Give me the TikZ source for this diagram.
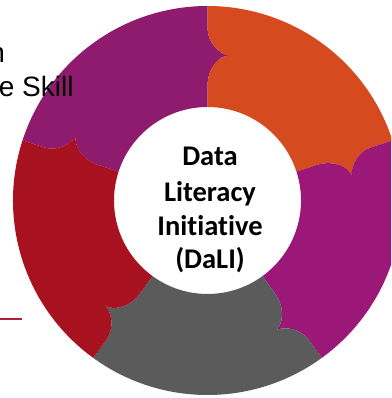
\documentclass[tikz,border=0pt]{standalone}
\usepackage{fontspec}
\setmainfont{Liberation Sans}
\newfontfamily\calib[Ligatures=NoCommon]{Carlito}
\definecolor{segpurple}{HTML}{8E1B6D}
\definecolor{segorange}{HTML}{D54A1F}
\definecolor{segmagenta}{HTML}{9C1878}
\definecolor{seggray}{HTML}{5B5B5B}
\definecolor{segred}{HTML}{A8111F}
\definecolor{lineRed}{HTML}{B02035}
\newcommand{\ringseg}[2]{%
  \pgfmathsetmacro{\sa}{#1}%
  \pgfmathsetmacro{\sb}{#1-72}%
  \fill[#2] (\sa:194.5pt) arc[start angle=\sa, end angle=\sb, radius=194.5pt]
    -- (\sb:172pt) .. controls (\sb:158pt) and ({\sb-4.7}:146.5pt) .. ({\sb-8.6}:146.5pt)
    .. controls ({\sb-4.7}:146.5pt) and (\sb:132pt) .. (\sb:115pt)
    -- (\sb:93.5pt) arc[start angle=\sb, end angle=\sa, radius=93.5pt]
    -- (\sa:115pt) .. controls (\sa:132pt) and ({\sa-4.7}:146.5pt) .. ({\sa-8.6}:146.5pt)
    .. controls ({\sa-4.7}:146.5pt) and (\sa:158pt) .. (\sa:172pt) -- cycle;}
\tikzset{
  centertext/.style={font=\calib\bfseries\fontsize{28.5}{34}\selectfont, inner sep=0pt, anchor=base, text=black},
  sidetext/.style={font=\fontsize{28}{34}\selectfont, inner sep=0pt, anchor=base east, text=black}
}
\begin{document}
\begin{tikzpicture}
\useasboundingbox (0pt,0pt) rectangle (391pt,398pt);
\clip (0pt,0pt) rectangle (391pt,398pt);
\fill[white] (0pt,0pt) rectangle (391pt,398pt);
\begin{scope}[shift={(207.5pt,197.5pt)}]
  \ringseg{162}{segpurple}
  \ringseg{90}{segorange}
  \ringseg{18}{segmagenta}
  \ringseg{-54}{seggray}
  \ringseg{-126}{segred}
\end{scope}
\node[centertext] (t1) at (210pt,232pt) {Data};
\node[centertext] (t2) at (210pt,196pt) {Literacy};
\node[centertext] (t3) at (210pt,162pt) {Initiative};
\node[centertext] (t4) at (210pt,129pt) {(DaLI)};
\node[sidetext] (s1) at (5.2pt,335pt) {n};
\node[sidetext] (s2) at (73.8pt,301pt) {e Skill};
\coordinate (la) at (0pt,79pt);
\coordinate (lb) at (22pt,79pt);
\draw[lineRed, line width=1.7pt] (la) -- (lb);
\end{tikzpicture}
\end{document}
